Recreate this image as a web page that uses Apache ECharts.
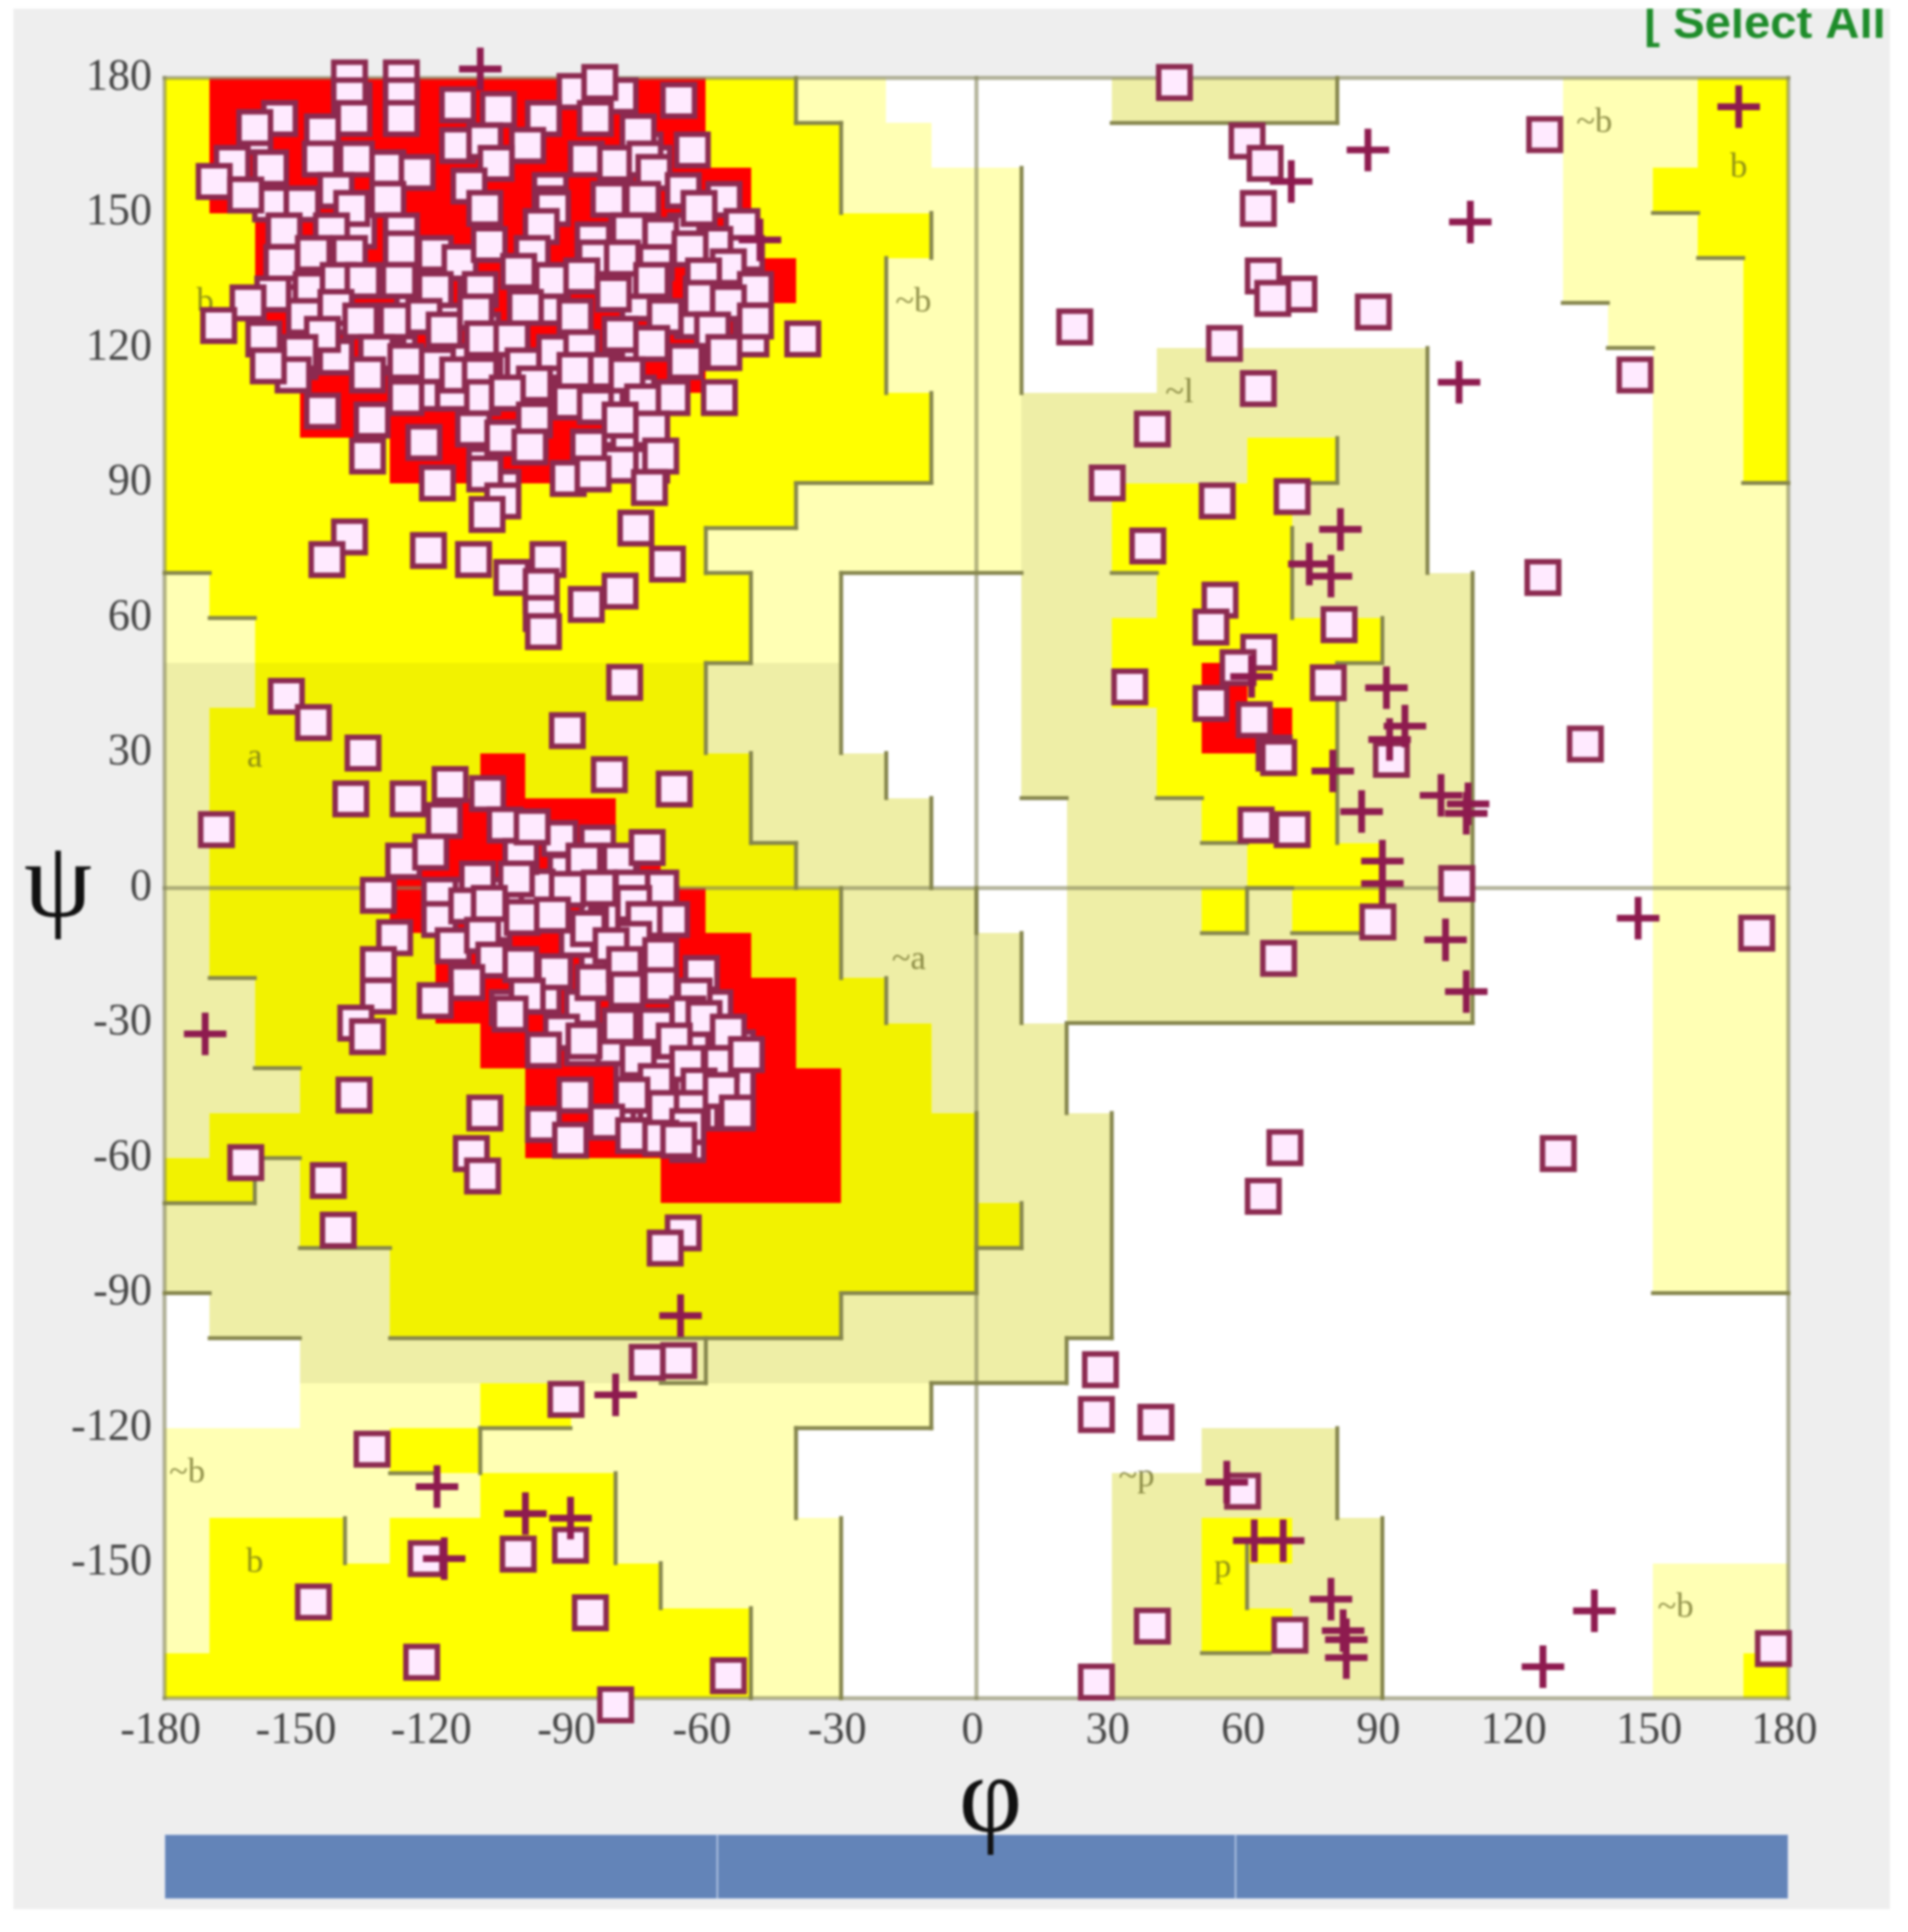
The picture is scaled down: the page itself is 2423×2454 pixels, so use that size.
<!DOCTYPE html>
<html><head><meta charset="utf-8">
<style>html,body{margin:0;padding:0;background:#fff}#c{width:2423px;height:2454px;filter:blur(1.6px)}</style>
<script src="https://cdn.jsdelivr.net/npm/echarts@6/dist/echarts.min.js"></script>
</head><body><div id="c"></div>
<script>
var tickLabels = [-180,-150,-120,-90,-60,-30,0,30,60,90,120,150,180];
// rows from psi 170..180 down to psi -180..-170; each run = zone letter + end column (10 degree columns from phi -180)
var zoneRows = [
 'y1 r12 y14 p16 .21 k26 .31 p34 y36',
 'y1 r12 y15 p17 .31 p34 y36',
 'y1 r13 y15 p19 .31 p33 y36',
 'y2 r13 y17 p19 .31 p34 y36',
 'y2 r14 y16 p19 .31 p35 y36',
 'y2 r13 y16 p19 .32 p35 y36',
 'y3 r12 y16 p19 .22 k28 .33 p35 y36',
 'y3 r11 y17 p19 k28 .33 p35 y36',
 'y5 r9 y17 p19 k24 y26 k28 .33 p35 y36',
 'y14 p19 k21 y25 k28 .33 p36',
 'y12 p19 k21 y25 k28 .33 p36',
 'p1 y13 p15 .19 k22 y25 k29 .33 p36',
 'p2 y13 p15 .19 k21 y27 k29 .33 p36',
 'k2 d12 k15 .19 k21 y23 r24 y26 k29 .33 p36',
 'k1 d12 k15 .19 k22 y23 r25 y26 k29 .33 p36',
 'k1 d7 r8 d13 k16 .19 k22 y26 k29 .33 p36',
 'k1 d6 r10 d13 k17 .20 k23 y26 k29 .33 p36',
 'k1 d5 r11 d14 k17 .20 k24 y27 k29 .33 p36',
 'k1 d5 r12 d15 k18 .20 k23 y24 k25 y27 k29 .33 p36',
 'k1 d6 r13 d15 k19 .20 k29 .33 p36',
 'k2 d6 r14 d16 k19 .20 k29 .33 p36',
 'k2 d7 r14 d17 k20 .33 p36',
 'k3 d8 r15 d17 k20 .33 p36',
 'k1 d8 r15 d18 k21 .33 p36',
 'd2 k3 d11 r15 d18 k21 .33 p36',
 'k3 d19 k21 .33 p36',
 'k5 d18 k21 .33 p36',
 '.1 k5 d15 k21 .36',
 '.3 k20 .36',
 '.3 p7 y9 p17 .36',
 'p5 y7 p14 .23 k26 .36',
 'p7 y10 p14 .21 k26 .36',
 'p1 y4 p5 y10 p15 .21 k23 y25 k27 .36',
 'p1 y11 p15 .21 k23 y24 k27 .33 p36',
 'p1 y13 p15 .21 k23 y25 k27 .33 p36',
 'y13 p15 .21 k27 .33 p35 y36'
];
// zone outlines, [phi1, psi1, phi2, psi2]
var outlineSegments = [
 [-40,180,-40,170],[-40,170,-30,170],[-30,170,-30,150],[-10,150,-10,140],[-20,140,-20,110],[-10,110,-10,90],
 [-40,90,-10,90],[-40,90,-40,80],[-60,80,-40,80],[-60,80,-60,70],[-60,70,-50,70],[-50,70,-50,50],[-60,50,-50,50],[-60,50,-60,30],
 [-30,70,10,70],[-30,70,-30,30],[30,70,40,70],[-50,30,-50,10],[-50,10,-40,10],[-40,10,-40,0],[-30,0,-30,-20],[-20,-20,-20,-30],
 [-20,30,-20,20],[-10,20,-10,0],[0,0,0,-10],[10,-10,10,-30],[20,-30,20,-50],[30,-50,30,-100],[20,-100,30,-100],[20,-100,20,-110],
 [-10,-110,20,-110],[-10,-110,-10,-120],[-40,-120,-10,-120],[-40,-120,-40,-140],[-30,-140,-30,-180],
 [0,-50,0,-90],[0,-80,10,-80],[10,-70,10,-80],[-30,-90,0,-90],[-30,-90,-30,-100],[-130,-100,-30,-100],
 [-180,-90,-170,-90],[-170,-100,-150,-100],[-130,-130,-120,-130],[-110,-120,-110,-130],[-110,-120,-90,-120],
 [-140,-140,-140,-150],[-80,-130,-80,-150],[-70,-150,-70,-160],[-50,-160,-50,-180],[-60,-100,-60,-110],[-70,-110,-60,-110],
 [-180,70,-170,70],[-170,60,-160,60],[-170,-20,-160,-20],[-160,-40,-150,-40],[-160,-60,-150,-60],[-160,-65,-160,-70],[-180,-70,-160,-70],[-150,-80,-130,-80],
 [30,170,80,170],[80,180,80,170],[10,160,10,110],[100,120,100,70],[110,70,110,-30],[20,-30,110,-30],
 [80,100,80,90],[70,90,80,90],[70,80,70,60],[90,60,90,50],[80,50,90,50],[80,50,80,10],[50,10,60,10],[90,10,90,0],[50,-10,60,-10],[60,0,60,-10],[60,0,70,0],[70,-10,90,-10],
 [10,20,20,20],[40,20,50,20],[80,-120,80,-140],[90,-140,90,-180],[60,-145,60,-160],[50,-170,65,-170],
 [150,150,160,150],[160,140,170,140],[130,130,140,130],[140,120,150,120],[170,90,180,90],[150,-90,180,-90]
];
var axisLines = [[0,180,0,-180],[-180,0,180,0],[-180,180,180,180],[-180,-180,180,-180],[-180,180,-180,-180],[180,180,180,-180]];
var regionLabels = [
 ['~b',-14,130],['~b',137,170],['b',169,160],['~a',-15,-16],['a',-160,29],['~l',45,110],['~p',35.5,-131],['p',54.6,-151],['b',-160,-150],['~b',-175,-130],['~b',155,-160],['b',-171,130]
];
// squares mostly covered by later ones in the dense clusters come first
var coveredSquares = [
 [-73.5,164],[-71.5,161],[-94.5,155],[-94.5,152],[-77.5,149],[-66,143],[-60.5,140],[-71.5,142],[-71.5,135],[-64.5,146],[-55,143],[-127.5,139],[-127.5,144],
 [-150,135],[-147.5,135],[-147.5,130],[-149,130],[-142,127],[-131,126],[-128,124],[-125,128],[-118,126],[-111,131],[-109.5,124],[-94.5,131],[-94.5,129],
 [-75,130],[-76.5,135],[-61,132],[-55,135],[-63,126],[-50,122],[-57,119],[-150,117],[-144,118],[-130.5,118],[-142,118],[-108,118],[-97,112],[-103,117],[-95,114],
 [-115,117],[-109,114],[-77.5,117],[-90,110],[-79,108],[-75,110],[-79,102],[-121,110],[-116,110],[-99,100],[-77,97],[-96.5,65],[-72,94],[-109,94],[-105,89],
 [-137,146],[-138,175],[-160,167],[-79,176],[-89,177],
 [-87,5.5],[-91,3.7],[-78.6,1],[-75.3,-3.4],[-73,-0.7],[-105,-1.6],[-114,-1.6],[-107,-8],[-100.7,-2.5],[-97.4,0.2],[-84,-5],[-82,-8],[-70,-3.4],[-84,-16],[-88.5,-11.4],
 [-78.6,-14],[-78.6,-7],[-63,-26.6],[-58,-26.6],[-74,-32],[-70,-32],[-53,-35.5],[-59,-34.6],[-55.5,-40],[-70,-44.5],[-63,-44.5],[-58,-49],[-53,-43.6],[-61,-50],[-70,-39],
 [-76.4,-39],[-76,-51.6],[-72.6,-53],[-71,-50.7],[-64,-57],[-82,-35.5],[-87.4,-35.5],[-87.4,-26.6],[-96,-24],[-104,-26.6],[-63,-34]
];
var residueSquares = [
 [-139,180],[-139,176],[-127.5,180],[-127.5,176],[-127.5,171],[-115,174],[-106,173],[-96,171],[-83.5,179],[-84.5,171],[-66,175],[-75,168],
 [-154.5,171],[-160,169],[-145,168],[-138,171],[-115,165],[-109,166],[-99.5,165],[-106.5,161],[-86.5,162],[-80,161],[-73.5,162],[-63,164],
 [-165,161],[-169,157],[-156.5,160],[-145.5,162],[-137.5,162],[-130.5,160],[-124,159],[-71.5,159],[-65,155],[-112.5,156],[-142,155],
 [-156.5,152],[-149.5,152],[-138.5,151],[-162,154],[-130.5,153],[-81.5,153],[-74,153],[-56,153],[-61.5,151],[-94,151],[-109,151],
 [-153.5,146],[-143,146],[-127.5,146],[-96.5,147],[-70,145],[-52,147],[-77,146],[-85,144],[-58,143],[-63.5,142],[-120,141],[-114.5,139],
 [-108,143],[-98.5,141],[-84.5,140],[-78.5,140],[-154,139],[-147,141],[-139,141],[-127.5,142],[-71,139],[-51,141],[-55,138],
 [-101.5,137],[-94,135],[-87.5,136],[-60.5,136],[-72,135],[-80.5,132],[-156,132],[-147.5,133],[-141.5,135],[-136,135],[-128,135],[-120,133],[-110,133],[-49,133],
 [-161.5,130],[-149,127],[-142,129],[-136.5,126],[-128.5,126],[-122.5,127],[-118,124],[-111,128],[-100,129],[-89,127],[-69,127],[-61,131],[-55,130],
 [-168,125],[-158,122],[-145,123],[-150,119],[-133,119],[-109.5,122],[-93.5,119],[-79,123],[-72,121],[-58.5,124],[-49,126],[-38.5,122],[-103,122],[-87.5,120],
 [-151.5,114],[-157,116],[-135,114],[-126.5,117],[-119.5,116],[-115,114],[-110,114],[-100.5,116],[-89,115],[-82,115],[-77.5,114],[-64.5,117],[-56,119],
 [-145,106],[-126.5,109],[-109.5,109],[-98,112],[-104,110],[-90,108],[-84.5,107],[-67.5,109],[-74,108],[-57,109],[-79,104],
 [-134,104],[-111.5,102],[-105,100],[-98,104],[-72,102],[-135,96],[-122.5,99],[-99,98],[-86,98],[-79,94],[-70,96],
 [-119.5,90],[-109,92],[-90.5,91],[-85,92],[-72.5,89],[-105,86],[-108.5,83],[-75.5,80],[-68.5,72],[-139,78],[-144,73],[-121.5,75],[-111.5,73],[-95,73],[-103,69],[-96.5,67],[-86.5,63],[-79,66],[-96.5,61],[-96,57],
 [-153,42.6],[-147,36.8],[-136,30],[-138.7,19.8],[-126,19.8],[-168.5,13],[-90.7,35],[-78,45.7],[-81.4,25.2],[-67,22],
 [-116.7,23],[-108.4,21],[-118,15],[-104.5,14],[-92.4,11],[-127,6],[-121,8],[-101,7],[-98.5,13.6],[-84,10],[-79,6],[-87,6],[-73,9],
 [-132.6,-1.6],[-110.6,2],[-90.7,-0.3],[-83.6,0],[-102,2],[-70,0],[-76.4,0],[-119,-1.6],[-119,-7],[-113,-4],[-108,-3.4],[-100.7,-6.5],[-94,-6],[-76,-3.4],[-67.6,-7],[-73.7,-7],
 [-129,-11],[-116,-12.8],[-109.5,-10.5],[-86,-9],[-76,-11.4],[-81,-12.8],[-107,-16],[-101,-17],[-93.5,-18.6],[-70,-15],[-132.6,-17],[-113,-21],[-85,-21],[-78,-17],[-77.5,-22.6],[-70,-21.7],[-61,-19],
 [-132.6,-24],[-120,-25],[-99.6,-24],[-62.6,-24],[-137.6,-30],[-135,-33],[-92,-32],[-79,-30.6],[-103.4,-28],[-64,-28],[-60.4,-29],[-55,-32],[-71,-30.6],[-67,-34],
 [-96,-36],[-87,-34],[-75,-38],[-56.6,-39],[-51,-37],[-64,-39],[-71,-43],[-89,-46],[-76.4,-46],[-61.5,-44],[-69,-49],[-63,-49],[-56.6,-45],[-53,-50],
 [-82,-52],[-96,-52.5],[-90,-56],[-76,-55],[-64,-53],[-70,-55.6],[-66,-56],
 [-138,-46],[-109,-50],[-112,-59],[-109.5,-64],[-162,-61],[-143.7,-65],[-141.5,-76],[-65,-76.6],[-69,-80],
 [-73,-105.4],[-66,-105],[-91,-113.6],[-134,-124.7],[-122,-149],[-101.6,-148],[-90,-146],[-147,-158.6],[-85.6,-161],[-123,-172],[-55,-175],[-80,-181.5],
 [43.9,179],[60,166],[64,161],[62.5,151],[63.6,136],[71.5,132],[65.7,131],[88,128],[126,167.4],[21.8,124.7],[55,121],[62.5,111],[39,102],[29,90],[53.4,86],[70,87],[38,76],[125.6,69],
 [54,64],[52,58],[62.6,52.4],[80.4,58.5],[58,49],[34,44.7],[78,45.6],[52,41],[61.6,37.4],[66,30],[67,29],[92,28.6],[135,32],[146,114],
 [62,14],[70,13],[106.5,1],[89,-7.5],[67,-15.6],[173,-10],[68.4,-57.7],[63.6,-68.5],[129,-59],[27.5,-107],[26.6,-117],[39.8,-118.7],[59,-134],[39,-164],[69.5,-166],[26.6,-176.4],[176.7,-169]
];
var residueCrosses = [
 [-119.6,-133],[-100,-139],[-90,-140],[-118,-149],[-80,-112.6],[-65.6,-95],[-171,-32.4],[-110,182],[-48,144],
 [86.8,164],[69.8,157],[109.5,148],[169,173.6],[107,112.4],[80.7,79.7],[73.8,72],[78.6,69.3],[61,47],[90.9,44.5],[95,36],[91.6,33],[79,26],
 [103,20.6],[109,18.7],[108.6,16.6],[85.4,17],[90,6],[90,1],[104,-11.5],[108.6,-23],[146.7,-6.7],
 [55.5,-132],[61.6,-145],[68,-145],[78.6,-158],[81.3,-165],[82,-167],[82,-171],[137,-160.6],[125.6,-173]
];
var barSegments = [449,421,449];

var zoneColors = {p:'#FFFFB4', k:'#EEEEA6', y:'#FFFF00', d:'#F2F200', r:'#FF0000'};
var zoneKeys = ['p','k','y','d','r'];
var zoneData = [];
zoneRows.forEach(function(row, i){
  var psiLow = 170 - i*10, start = 0;
  row.split(' ').forEach(function(run){
    var end = +run.slice(1), key = run[0];
    if (key !== '.') zoneData.push([start*10-180, psiLow, end*10-180, psiLow+10, zoneKeys.indexOf(key)]);
    start = end;
  });
});
var chart = echarts.init(document.getElementById('c'), null, {renderer:'canvas'});
function segRender(color, width){
  return function(params, api){
    var a = api.coord([api.value(0), api.value(1)]), b = api.coord([api.value(2), api.value(3)]);
    return {type:'line', shape:{x1:a[0],y1:a[1],x2:b[0],y2:b[1]}, style:{stroke:color, lineWidth:width, lineCap:'square'}};
  };
}
var serif = '"Liberation Serif", serif';
chart.setOption({
  animation:false,
  backgroundColor:'#ffffff',
  graphic:[
    {type:'rect', z:-10, shape:{x:17,y:11,width:2383,height:2414}, style:{fill:'#EEEEEE'}},
    {type:'text', z:50, x:2088, y:1, style:{text:'[ Select All', font:'bold 60px "Liberation Sans"', fill:'#1E8C2A'}},
    {type:'rect', z:51, shape:{x:2000,y:0,width:423,height:11}, style:{fill:'#ffffff'}},
    {type:'rect', z:51, shape:{x:2400,y:0,width:23,height:120}, style:{fill:'#ffffff'}}
  ],
  grid:[
    {left:209, right:152, top:99, bottom:297, show:true, backgroundColor:'#ffffff', borderWidth:0, outerBoundsMode:'none'},
    {left:209, right:152, top:2330, height:82, outerBoundsMode:'none'}
  ],
  xAxis:[
    {type:'value', gridIndex:0, z:20, min:-180, max:180, interval:30, splitLine:{show:false}, axisTick:{show:false}, axisLine:{show:false},
     axisLabel:{show:true, color:'#444444', fontFamily:serif, fontSize:56, margin:14, padding:[0,10,0,0], showMinLabel:true, showMaxLabel:true, hideOverlap:false},
     name:'φ', nameLocation:'middle', nameGap:62, nameMoveOverlap:false, nameTextStyle:{fontFamily:serif, fontSize:140, color:'#111', padding:[0,0,0,36]}},
    {type:'value', gridIndex:1, min:0, max:1319, show:false}
  ],
  yAxis:[
    {type:'value', gridIndex:0, min:-180, max:180, interval:30, splitLine:{show:false}, axisTick:{show:false}, axisLine:{show:false},
     axisLabel:{show:true, color:'#444444', fontFamily:serif, fontSize:56, margin:16, showMinLabel:false, showMaxLabel:true, hideOverlap:false},
     name:'ψ', nameLocation:'middle', nameGap:92, nameMoveOverlap:false, nameRotate:0, nameTextStyle:{fontFamily:serif, fontSize:138, color:'#111', padding:[0,0,24,0]}},
    {type:'category', gridIndex:1, data:['bar'], show:false}
  ],
  series:[
    {type:'custom', z:2, data:zoneData, clip:true, silent:true, encode:{x:[0,2],y:[1,3]},
     renderItem:function(params, api){
       var a = api.coord([api.value(0), api.value(3)]), b = api.coord([api.value(2), api.value(1)]);
       var x = Math.round(a[0]), y = Math.round(a[1]);
       return {type:'rect', shape:{x:x, y:y, width:Math.round(b[0])-x, height:Math.round(b[1])-y},
               style:{fill:zoneColors[zoneKeys[api.value(4)]]}};
     }},
    {type:'custom', z:3, data:axisLines, clip:false, silent:true, encode:{x:[0,2],y:[1,3]}, renderItem:segRender('rgba(130,130,90,0.62)',5)},
    {type:'custom', z:4, data:outlineSegments, clip:false, silent:true, encode:{x:[0,2],y:[1,3]}, renderItem:segRender('#85854C',5)},
    {type:'scatter', z:5, symbolSize:0, silent:true, clip:false,
     data:regionLabels.map(function(d){return {name:d[0], value:[d[1],d[2]]};}),
     label:{show:true, position:'inside', formatter:'{b}', fontFamily:serif, fontSize:44, color:'rgba(100,100,30,0.9)'}},
    {type:'scatter', z:6, clip:false, symbol:'rect', symbolSize:40, data:coveredSquares.concat(residueSquares), silent:true, large:false,
     itemStyle:{color:'#FFEAFF', borderColor:'#8C2A50', borderWidth:7, opacity:1}},
    {type:'scatter', z:7, clip:false, symbol:'path://M42 0h16v42h42v16H58v42H42V58H0V42h42z', symbolSize:54, data:residueCrosses, silent:true,
     itemStyle:{color:'#8E1B4F', opacity:1}},
    {type:'bar', xAxisIndex:1, yAxisIndex:1, stack:'b', barWidth:82, data:[barSegments[0]], silent:true, itemStyle:{color:'#6384B8', borderColor:'#B4C6E4', borderWidth:1}},
    {type:'bar', xAxisIndex:1, yAxisIndex:1, stack:'b', barWidth:82, data:[barSegments[1]], silent:true, itemStyle:{color:'#6384B8', borderColor:'#B4C6E4', borderWidth:1}},
    {type:'bar', xAxisIndex:1, yAxisIndex:1, stack:'b', barWidth:82, data:[barSegments[2]], silent:true, itemStyle:{color:'#6384B8', borderColor:'#B4C6E4', borderWidth:1}}
  ]
});
</script></body></html>
